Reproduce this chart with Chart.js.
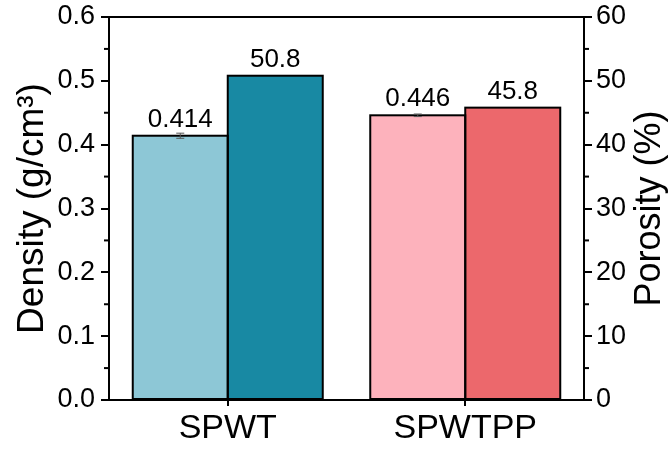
<!DOCTYPE html>
<html>
<head>
<meta charset="utf-8">
<title>Density and porosity</title>
<script src="https://cdn.jsdelivr.net/npm/chart.js@4"></script>
<style>
  body { margin: 0; background: #fff; }
  #wrap { width: 668px; height: 450px; }
</style>
</head>
<body>
<div id="wrap"><canvas id="chart" width="668" height="450"></canvas></div>
<script>
const samples = ['SPWT', 'SPWTPP'];
const density = [0.414, 0.446];
const densityErr = [0.004, 0.002];
const porosity = [50.8, 45.8];
const densityTicks = [0, 0.1, 0.2, 0.3, 0.4, 0.5, 0.6];
const porosityTicks = [0, 10, 20, 30, 40, 50, 60];
const densityColors = ['#8dc7d6', '#fdb2bc'];
const porosityColors = ['#1889a3', '#ec686c'];

const FONT = '"Liberation Sans", Arial, sans-serif';

// bar outlines, top frame line, minor ticks, error bars, value labels, right title
const extras = {
  id: 'extras',
  afterDatasetsDraw(chart) {
    const { ctx, chartArea: a, scales } = chart;
    ctx.save();
    ctx.strokeStyle = '#000';
    ctx.lineWidth = 2;

    // outline each bar with a centred stroke so neighbours share one line
    [0, 1].forEach(di => {
      chart.getDatasetMeta(di).data.forEach(bar => {
        ctx.strokeRect(bar.x - bar.width / 2, bar.y, bar.width, bar.base - bar.y);
      });
    });

    ctx.beginPath();
    ctx.moveTo(a.left - 1, a.top);
    ctx.lineTo(a.right + 1, a.top);
    ctx.stroke();

    // minor ticks halfway between major ones
    const minor = (scale, ticks, x0, dir) => {
      for (let i = 0; i < ticks.length - 1; i++) {
        const y = scale.getPixelForValue((ticks[i] + ticks[i + 1]) / 2);
        ctx.beginPath();
        ctx.moveTo(x0, y);
        ctx.lineTo(x0 + dir * 5, y);
        ctx.stroke();
      }
    };
    minor(scales.y, densityTicks, a.left, -1);
    minor(scales.y1, porosityTicks, a.right, 1);

    // error bars on density
    ctx.strokeStyle = '#555';
    ctx.lineWidth = 1;
    chart.getDatasetMeta(0).data.forEach((bar, i) => {
      const top = scales.y.getPixelForValue(density[i] + densityErr[i]);
      const bot = scales.y.getPixelForValue(density[i] - densityErr[i]);
      ctx.beginPath();
      ctx.moveTo(bar.x, top); ctx.lineTo(bar.x, bot);
      ctx.moveTo(bar.x - 4, top); ctx.lineTo(bar.x + 4, top);
      ctx.moveTo(bar.x - 4, bot); ctx.lineTo(bar.x + 4, bot);
      ctx.stroke();
    });

    // value labels
    ctx.fillStyle = '#000';
    ctx.font = '26px ' + FONT;
    ctx.textAlign = 'center';
    ctx.textBaseline = 'alphabetic';
    chart.getDatasetMeta(0).data.forEach((bar, i) => {
      ctx.fillText(density[i].toFixed(3), bar.x, bar.y - 9);
    });
    chart.getDatasetMeta(1).data.forEach((bar, i) => {
      ctx.fillText(porosity[i].toFixed(1), bar.x, bar.y - 9);
    });

    // right axis title reads bottom to top like the left one
    ctx.translate(650, (a.top + a.bottom) / 2);
    ctx.rotate(-Math.PI / 2);
    ctx.font = '36px ' + FONT;
    ctx.textBaseline = 'middle';
    ctx.fillText('Porosity (%)', 0, 0);
    ctx.restore();
  }
};

const tickFont = { family: FONT, size: 27 };
// keep the plot box where the reference has it, whatever the label heights
const fixPad = s => { s.paddingTop = 0; s.paddingBottom = 0; };

new Chart(document.getElementById('chart'), {
  type: 'bar',
  data: {
    labels: samples,
    datasets: [{
      label: 'Density',
      data: density,
      yAxisID: 'y',
      backgroundColor: densityColors,
      borderWidth: 0
    }, {
      label: 'Porosity',
      data: porosity,
      yAxisID: 'y1',
      backgroundColor: porosityColors,
      borderWidth: 0
    }]
  },
  options: {
    responsive: false,
    animation: false,
    layout: { padding: { top: 17, left: 0, right: 0, bottom: 0 } },
    datasets: { bar: { categoryPercentage: 0.8, barPercentage: 1.0, inflateAmount: 0 } },
    plugins: { legend: { display: false }, tooltip: { enabled: false } },
    scales: {
      x: {
        grid: { display: true, drawOnChartArea: false, offset: false, tickLength: 6, color: '#000', lineWidth: 2 },
        border: { display: true, color: '#000', width: 2 },
        ticks: { color: '#000', font: { family: FONT, size: 34 }, padding: 2 },
        afterFit(s) { s.height = 50; }
      },
      y: {
        position: 'left',
        min: densityTicks[0],
        max: densityTicks[densityTicks.length - 1],
        ticks: { stepSize: 0.1, color: '#000', font: tickFont, padding: 6,
                 callback: v => v.toFixed(1) },
        grid: { display: true, drawOnChartArea: false, tickLength: 8, color: '#000', lineWidth: 2 },
        border: { display: true, color: '#000', width: 2 },
        title: { display: true, text: 'Density (g/cm³)', color: '#000',
                 font: { family: FONT, size: 37, lineHeight: 1 }, padding: { top: 14, bottom: 0 } },
        afterFit(s) { s.width = 109; fixPad(s); }
      },
      y1: {
        position: 'right',
        min: porosityTicks[0],
        max: porosityTicks[porosityTicks.length - 1],
        ticks: { stepSize: 10, color: '#000', font: tickFont, padding: 4 },
        grid: { display: true, drawOnChartArea: false, tickLength: 8, color: '#000', lineWidth: 2 },
        border: { display: true, color: '#000', width: 2 },
        afterFit(s) { s.width = 84; fixPad(s); }
      }
    }
  },
  plugins: [extras]
});
</script>
</body>
</html>
